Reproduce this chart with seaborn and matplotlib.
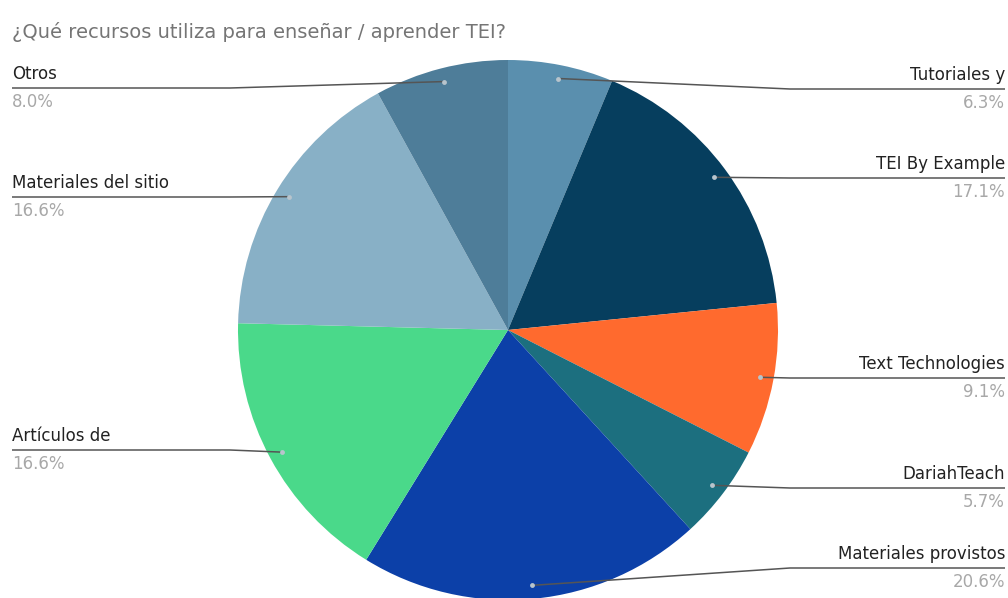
"""
Pie chart: recursos para enseñar / aprender TEI.
"""

import matplotlib.pyplot as plt
import numpy as np
import seaborn as sns


TITLE = "¿Qué recursos utiliza para enseñar / aprender TEI?"

# slices, clockwise from 12 o'clock
LABELS = [
    "Tutoriales y",
    "TEI By Example",
    "Text Technologies",
    "DariahTeach",
    "Materiales provistos",
    "Artículos de",
    "Materiales del sitio",
    "Otros",
]
SHARES = [6.3, 17.1, 9.1, 5.7, 20.6, 16.6, 16.6, 8.0]
COLORS = [
    "#5a8fae",
    "#063e5e",
    "#ff6a2e",
    "#1c6f7f",
    "#0c40a8",
    "#4ad98a",
    "#88b0c6",
    "#4e7d99",
]

# label placement (pixel row of the label name, side of the chart)
LABEL_ROWS = [75, 164, 364, 474, 554, 436, 183, 74]
LABEL_SIDES = ["right", "right", "right", "right", "right", "left", "left", "left"]

WIDTH, HEIGHT = 1008, 598
CENTER_X, CENTER_Y = 508, 330
RADIUS = 270


def flip(y_pixel: float) -> float:
    """Pixel row from the top to data y."""
    return HEIGHT - y_pixel


def main() -> None:
    sns.set_theme(style="white")
    plt.rcParams["font.family"] = ["DejaVu Sans"]

    fig = plt.figure(figsize=(WIDTH / 100, HEIGHT / 100), dpi=100)
    ax = fig.add_axes([0, 0, 1, 1])

    wedges, _ = ax.pie(
        SHARES,
        colors=COLORS,
        startangle=90,
        counterclock=False,
        center=(CENTER_X, flip(CENTER_Y)),
        radius=RADIUS,
        wedgeprops={"linewidth": 0},
    )

    ax.set_xlim(0, WIDTH)
    ax.set_ylim(0, HEIGHT)
    ax.set_aspect("equal")
    ax.axis("off")

    fig.text(12 / WIDTH, 1 - 32 / HEIGHT, TITLE, fontsize=14,
             color="#757575", va="center", ha="left")

    for wedge, label, share, row, side in zip(
        wedges, LABELS, SHARES, LABEL_ROWS, LABEL_SIDES
    ):
        mid = np.deg2rad((wedge.theta1 + wedge.theta2) / 2)
        dot_x = CENTER_X + 0.95 * RADIUS * np.cos(mid)
        dot_y = flip(CENTER_Y) + 0.95 * RADIUS * np.sin(mid)
        line_y = flip(row + 14)

        if side == "right":
            bend_x = max(dot_x + 10, 790)
            end_x = 1005
            text_x, align = 1005, "right"
        else:
            bend_x = min(dot_x - 10, 230)
            end_x = 12
            text_x, align = 12, "left"

        ax.plot([dot_x, bend_x, end_x], [dot_y, line_y, line_y],
                color="#555555", linewidth=1.1, solid_capstyle="butt")
        ax.plot(dot_x, dot_y, "o", markersize=3.5, color="#b8c4cc",
                markeredgewidth=0)

        ax.text(text_x, flip(row), label, fontsize=12, color="#222222",
                ha=align, va="center")
        ax.text(text_x, flip(row + 28), f"{share:.1f}%", fontsize=12,
                color="#a8a8a8", ha=align, va="center")

    fig.savefig("out.png", dpi=100, facecolor="white")


if __name__ == "__main__":
    main()
